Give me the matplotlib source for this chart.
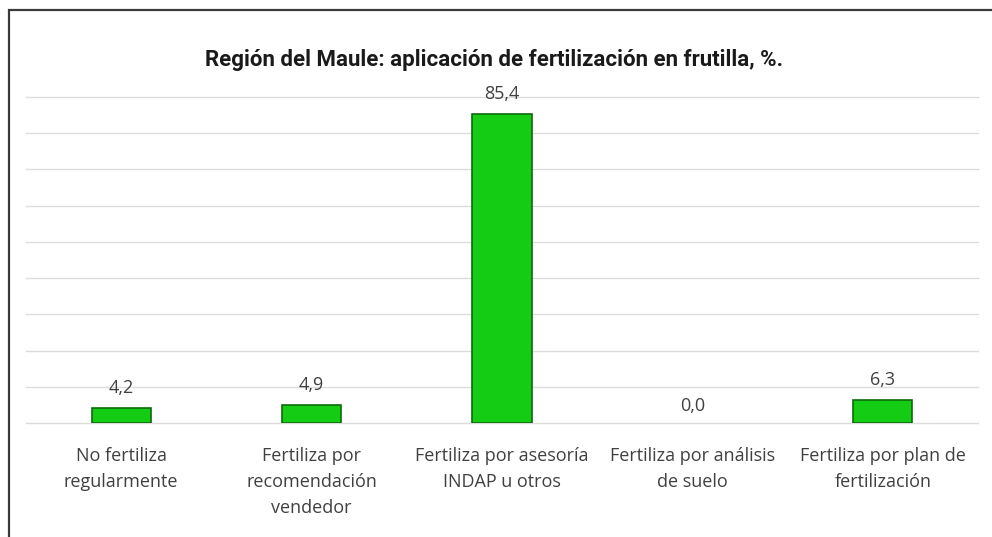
import matplotlib.pyplot as plt
from matplotlib.patches import Rectangle
import numpy as np

# data
categorias = ['No fertiliza\nregularmente',
              'Fertiliza por\nrecomendación\nvendedor',
              'Fertiliza por asesoría\nINDAP u otros',
              'Fertiliza por análisis\nde suelo',
              'Fertiliza por plan de\nfertilización']
porcentajes = [4.2, 4.9, 85.4, 0.0, 6.3]
titulo = 'Región del Maule: aplicación de fertilización en frutilla, %.'

fig = plt.figure(figsize=(9.92, 5.37), dpi=100)
fig.patch.set_facecolor('white')
ax = fig.add_axes([0.0262, 0.2123, 0.9597, 0.6071])

x = np.arange(len(categorias))
barras = ax.bar(x, porcentajes, width=0.31, color='#14cc14',
                edgecolor='#0b6b0b', linewidth=1.2, zorder=3)
# an empty bar leaves no outline
for b, v in zip(barras, porcentajes):
    if v == 0:
        b.set_linewidth(0)

# data labels with decimal comma
for xi, v in zip(x, porcentajes):
    ax.annotate('{:.1f}'.format(v).replace('.', ','), (xi, v),
                xytext=(0, 6 if v == 0 else 8), textcoords='offset points',
                ha='center', va='bottom', fontsize=13, color='#404040',
                family='Open Sans')

ax.set_xlim(-0.5, len(categorias) - 0.5)
ax.set_ylim(0, 90)
ax.set_yticks(np.arange(0, 91, 10))
ax.yaxis.grid(True, color='#dcdcdc', linewidth=1.0, zorder=0)
for gl in ax.get_ygridlines():
    gl.set_clip_on(False)
ax.set_axisbelow(True)
ax.tick_params(axis='y', left=False, labelleft=False)
ax.tick_params(axis='x', length=0, pad=17)
ax.set_xticks(x)
ax.set_xticklabels(categorias, fontsize=13, color='#404040',
                   family='Open Sans', linespacing=1.6, va='top')
for s in ax.spines.values():
    s.set_visible(False)

fig.text(0.498, 0.888, titulo, ha='center', va='center', fontsize=16,
         fontweight='bold', color='#1a1a1a', family='Roboto')

# frame of the original chart box (cropped on right and bottom)
fig.patches.append(Rectangle((9 / 992, -0.1), 1.2, 1.1 - 10 / 537,
                             transform=fig.transFigure, fill=False,
                             edgecolor='#3a3a3a', linewidth=1.6))

fig.savefig('out.png', dpi=100)
